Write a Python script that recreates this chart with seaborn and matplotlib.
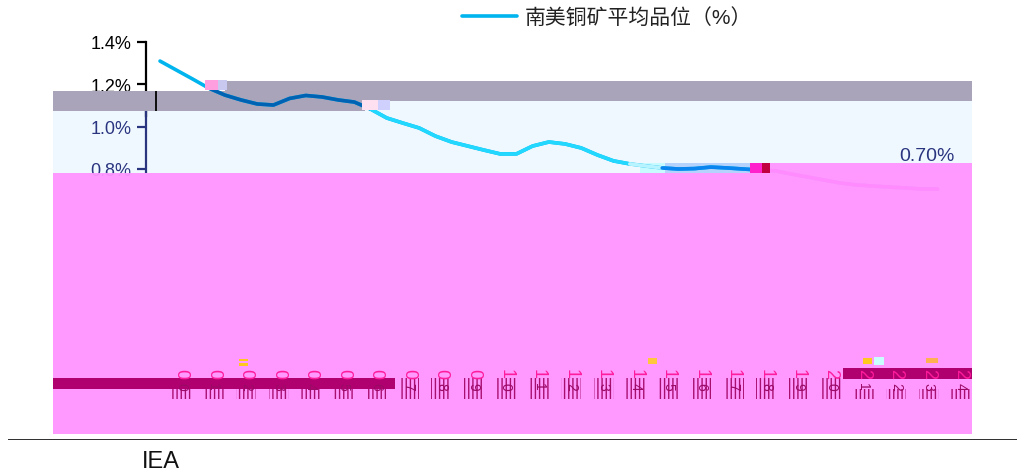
import numpy as np
import pandas as pd
import matplotlib
matplotlib.use('Agg')
import matplotlib.pyplot as plt
from matplotlib.patches import Rectangle
from matplotlib.transforms import ScaledTranslation
import seaborn as sns

W, H = 1026, 477

legend_label = '南美铜矿平均品位（%）'
source = 'IEA'
end_label = '0.70%'

# half-year readings
grade = [1.308, 1.266, 1.224, 1.181, 1.148, 1.125, 1.106, 1.101, 1.132, 1.146,
         1.139, 1.125, 1.115, 1.082, 1.040, 1.016, 0.993, 0.955, 0.927, 0.908,
         0.889, 0.871, 0.871, 0.908, 0.927, 0.918, 0.899, 0.866, 0.838, 0.824,
         0.814, 0.805, 0.800, 0.802, 0.809, 0.805, 0.800, 0.795, 0.791, 0.776,
         0.762, 0.748, 0.734, 0.725, 0.720, 0.715, 0.711, 0.706, 0.706]
years = [2000 + i for i in range(25)]
yticks = [0.0, 0.2, 0.4, 0.6, 0.8, 1.0, 1.2, 1.4]

df = pd.DataFrame({'year': [2000 + i / 2 for i in range(len(grade))], 'grade': grade})

# colour changes along the line: (from year, to year, colour)
segments = [(2001.5, 2006.5, '#0062b2'),
            (2006.5, 2014.5, '#22d8ff'),
            (2014.5, 2015.5, '#b8f4ff'),
            (2015.5, 2018.5, '#0a84ee'),
            (2018.5, 2024.0, '#ff00ff')]

NAVY = '#2a3580'
PINK = '#ff94ff'
MAROON = '#b0006f'


def fig_box(x0, y0, x1, y1, **kw):
    # rectangle given in picture pixels, y going down
    return Rectangle((x0 / W, 1 - y1 / H), (x1 - x0) / W, (y1 - y0) / H,
                     transform=fig.transFigure, linewidth=0, **kw)


sns.set_theme(style='white')
plt.rcParams['font.family'] = ['Liberation Sans', 'Noto Sans CJK SC', 'DejaVu Sans']
plt.rcParams['hatch.linewidth'] = 1.0

fig = plt.figure(figsize=(W / 100, H / 100), dpi=100, facecolor='white')
ax = fig.add_axes([146 / W, 1 - 340 / H, (972 - 146) / W, 298 / H])
ax.patch.set_alpha(0)
ax.set_zorder(2)

sns.lineplot(data=df, x='year', y='grade', ax=ax, color='#00b4ee', linewidth=2.6,
             label=legend_label, legend=False, solid_capstyle='round')
for start, stop, colour in segments:
    part = df[(df.year >= start) & (df.year <= stop)]
    sns.lineplot(data=part, x='year', y='grade', ax=ax, color=colour, linewidth=2.6, legend=False)

ax.set_xlim(2000 - 14 / 32.4, 2000 + (972 - 160) / 32.4)
ax.set_ylim(0, 298 / 212.5)
ax.set(xlabel='', ylabel='')
ax.set_xticks(years)
# only the leading digits stay in the faded row, the rest is drawn further down
ax.set_xticklabels([str(y)[:2] for y in years], rotation=-90, color='white', fontsize=9)
shift = ScaledTranslation(21 / 100, 0, fig.dpi_scale_trans)
for lab in ax.get_xticklabels():
    lab.set_transform(lab.get_transform() + shift)
ax.set_yticks(yticks)
ax.set_yticklabels([f'{v:.1f}%' for v in yticks], fontsize=13)
ax.tick_params(axis='y', left=True, length=6.5, width=1.6, pad=4, color='black')
ax.tick_params(axis='x', bottom=False, pad=2)
for lab, tick, v in zip(ax.get_yticklabels(), ax.yaxis.get_major_ticks(), yticks):
    lab.set_color('black' if v > 1.1 else NAVY if v > 0.7 else 'white')
    tick.tick1line.set_markeredgecolor('black' if v > 1.1 else NAVY if v > 0.7 else 'white')
for name in ['top', 'right', 'bottom']:
    ax.spines[name].set_visible(False)
ax.spines['left'].set_color('black')
ax.spines['left'].set_linewidth(1.6)
ax.spines['left'].set_bounds(1.05, 1.4)
ax.vlines(ax.get_xlim()[0], 0.78, 1.08, color=NAVY, linewidth=1.6, clip_on=False, zorder=3)

ax.annotate(end_label, (years[-1], grade[-1]), xytext=(-8, 24), textcoords='offset points',
            ha='center', va='center', color=NAVY, fontsize=14)

handles, labels = ax.get_legend_handles_labels()
leg = ax.legend(handles[:1], labels[:1], loc='center left', bbox_to_anchor=(0.3825, 1.0 + 24 / 298),
                frameon=False, fontsize=15, handlelength=2.65, handletextpad=0.35,
                borderpad=0, borderaxespad=0)
for lab in leg.get_texts():
    lab.set_color('#222222')

# bands behind the axes
fig.add_artist(fig_box(53, 101, 972, 173.5, facecolor='#f0f8ff', zorder=0))
fig.add_artist(fig_box(225, 81.5, 972, 101.5, facecolor='#a9a4ba', zorder=0.5))
fig.add_artist(fig_box(156, 91.5, 365, 111.5, facecolor='#a9a4ba', zorder=0.5))
fig.add_artist(fig_box(640, 163.5, 665, 173.5, facecolor='#c8fbff', zorder=0.6))
fig.add_artist(fig_box(665, 163.5, 750, 173.5, facecolor='#b4d2fb', zorder=0.6))
# bands over the axes
fig.add_artist(fig_box(53, 91.5, 156, 111.5, facecolor='#a9a4ba', zorder=3))
fig.add_artist(fig_box(154.5, 91.5, 156.5, 111.5, facecolor='#111111', zorder=3.1))
fig.add_artist(fig_box(53, 173.5, 972, 434.5, facecolor=PINK, alpha=0.95, zorder=4))
fig.add_artist(fig_box(770, 163.5, 972, 173.5, facecolor=PINK, alpha=0.95, zorder=4))
fig.add_artist(fig_box(750, 163.5, 762, 173.5, facecolor='#ff22cc', zorder=4))
fig.add_artist(fig_box(762, 163.5, 770, 173.5, facecolor='#c00040', zorder=4))
fig.add_artist(fig_box(53, 378.5, 395, 389.5, facecolor=MAROON, zorder=5))
fig.add_artist(fig_box(843, 368.5, 972, 379.5, facecolor=MAROON, zorder=5))

# small noise blocks left in the picture
for x0, y0, x1, y1, colour in [(205, 81, 218, 91, '#ff9fe0'), (218, 81, 227, 91, '#c8c8f0'),
                               (362, 101, 378, 111, '#ffe0f0'), (378, 101, 390, 111, '#d0d0ff'),
                               (239, 360, 248, 362, '#ffc81e'), (239, 364, 248, 367, '#ffc81e'),
                               (648, 359, 657, 365, '#ffc83c'), (863, 359, 872, 365, '#ffc81e'),
                               (874, 358, 884, 366, '#c8ffff'), (926, 359, 938, 364, '#ffb050')]:
    fig.add_artist(fig_box(x0, y0, x1, y1, facecolor=colour, zorder=5))

# year digits that still show through
for i, year in enumerate(years):
    cx = 181 + i * 32.5
    s = str(year)
    fig.text(cx / W, 1 - 374 / H, s[2], rotation=-90, ha='center', va='center',
             color='#ff1c9c', fontsize=13, zorder=6)
    fig.text(cx / W, 1 - 387 / H, s[3], rotation=-90, ha='center', va='center',
             color='#9a0a66', fontsize=10, zorder=6)
    top = 378.5 if 395 < cx < 843 else 389.5
    fig.add_artist(Rectangle(((cx - 10) / W, 1 - 400 / H), 20 / W, (400 - top) / H, transform=fig.transFigure,
                             facecolor='none', edgecolor='#a81070', hatch='||||', linewidth=0, zorder=5.5))

# source line
fig.add_artist(fig_box(8, 439.5, 1017, 441, facecolor='#333333', zorder=5))
fig.text(142 / W, 1 - 462 / H, source, ha='left', va='center', fontsize=17, color='#111111')

fig.savefig('out.png', dpi=100)
